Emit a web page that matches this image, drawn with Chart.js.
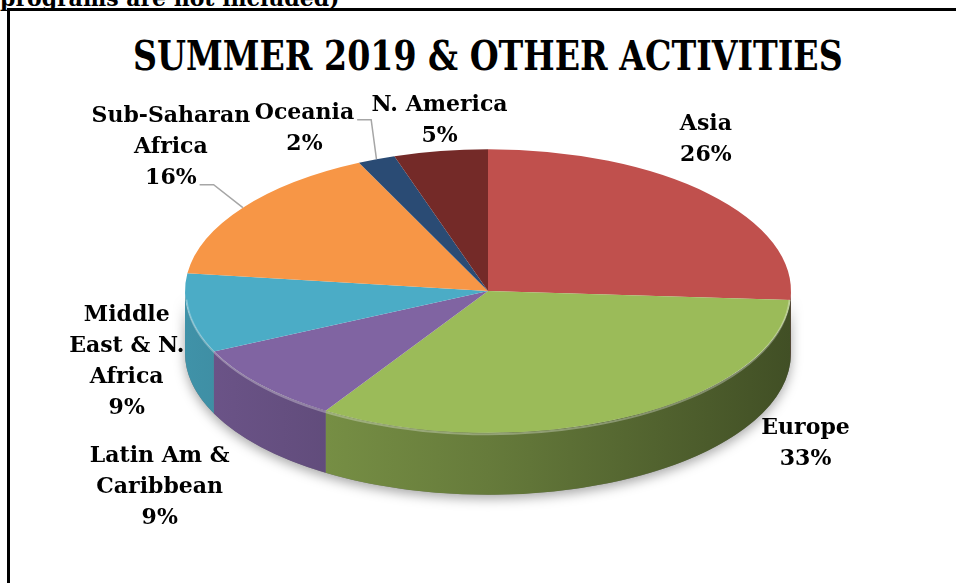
<!DOCTYPE html>
<html>
<head>
<meta charset="utf-8">
<script src="https://cdn.jsdelivr.net/npm/chart.js@4.4.1/dist/chart.umd.min.js"></script>
<style>
  html, body { margin: 0; padding: 0; background: #fff; }
  #page { position: relative; width: 956px; height: 583px; overflow: hidden; }
  #note { position: absolute; left: 0; top: -13px; font: bold 22px "DejaVu Serif"; line-height: 1; white-space: nowrap; color: #000; }
  #frame { position: absolute; left: 7px; top: 8px; width: 1000px; height: 572px;
           border-left: 3px solid #000; border-top: 3px solid #000; border-bottom: 1px solid #999; }
  #title { position: absolute; left: 0; top: 36px; width: 976px; text-align: center; }
  #title span { display: inline-block; font: bold 41px "DejaVu Serif"; line-height: 1; color: #000; transform-origin: center; white-space: nowrap; }
  #chart-box { position: absolute; left: 0; top: 0; width: 956px; height: 583px; }
</style>
</head>
<body>
<div id="page">
  <div id="note">programs are not included)</div>
  <div id="frame"></div>
  <div id="title"><span>SUMMER 2019 &amp; OTHER ACTIVITIES</span></div>
  <div id="chart-box"><canvas id="chart-pie"></canvas></div>
</div>
<script>
// data
const regions = ["Asia", "Europe", "Latin Am & Caribbean", "Middle East & N. Africa", "Sub-Saharan Africa", "Oceania", "N. America"];
const shares = [26, 33, 9, 9, 16, 2, 5];
const labelLines = [["Asia"], ["Europe"], ["Latin Am &", "Caribbean"], ["Middle", "East & N.", "Africa"], ["Sub-Saharan", "Africa"], ["Oceania"], ["N. America"]];
const sliceColors = ["#C0504D", "#9BBB59", "#8064A2", "#4BACC6", "#F79646", "#2A4B74", "#742A28"];

// look of the 3d pie
const TILT = 0.468;
const DEPTH = 62;
const RADIUS = 303;
// label block centre, relative to the slice's outer edge point
const labelOffset = [[-3, -54], [180, 26], [-101, 103], [-62, 49], [-72, -60], [-72, -30], [-1, -30]];
const leaderFrom = { 4: "last", 5: "first" };
const LINE_H = 31;

// fit title to reference width
const t = document.querySelector("#title span");
t.style.transform = "scaleX(" + (710 / t.offsetWidth) + ")";

function shade(hex, f) {
  const n = parseInt(hex.slice(1), 16);
  const r = Math.round(((n >> 16) & 255) * f), g = Math.round(((n >> 8) & 255) * f), b = Math.round((n & 255) * f);
  return "rgb(" + r + "," + g + "," + b + ")";
}

const pie3d = {
  id: "pie3d",
  beforeDatasetsDraw(chart) {
    const ctx = chart.ctx;
    const arcs = chart.getDatasetMeta(0).data;
    if (!arcs.length) return;
    const { x, y, outerRadius: r } = arcs[0];
    // soft shadow under the pie
    ctx.save();
    ctx.shadowColor = "rgba(0,0,0,0.35)";
    ctx.shadowBlur = 12;
    ctx.shadowOffsetY = 4;
    ctx.fillStyle = "#777";
    ctx.beginPath();
    ctx.ellipse(x, y, r, r * TILT, 0, 0, Math.PI, false);
    ctx.ellipse(x, y + DEPTH, r, r * TILT, 0, Math.PI, 0, true);
    ctx.closePath();
    ctx.fill();
    ctx.restore();
    // side walls
    arcs.forEach((arc, i) => {
      const s = Math.max(arc.startAngle, 0), e = Math.min(arc.endAngle, Math.PI);
      if (e <= s) return;
      const g = ctx.createLinearGradient(x - r, 0, x + r, 0);
      g.addColorStop(0, shade(sliceColors[i], 0.85));
      g.addColorStop(0.5, shade(sliceColors[i], 0.66));
      g.addColorStop(1, shade(sliceColors[i], 0.42));
      ctx.fillStyle = g;
      ctx.beginPath();
      ctx.ellipse(x, y, r, r * TILT, 0, s, e, false);
      ctx.ellipse(x, y + DEPTH, r, r * TILT, 0, e, s, true);
      ctx.closePath();
      ctx.fill();
    });
    // squash the flat pie into the top face
    ctx.save();
    ctx.translate(x, y);
    ctx.scale(1, TILT);
    ctx.translate(-x, -y);
  },
  afterDatasetsDraw(chart) {
    const ctx = chart.ctx;
    ctx.restore();
    const arcs = chart.getDatasetMeta(0).data;
    if (!arcs.length) return;
    const { x, y, outerRadius: r } = arcs[0];
    ctx.save();
    ctx.strokeStyle = "rgba(255,255,255,0.3)";
    ctx.lineWidth = 2;
    ctx.beginPath();
    ctx.ellipse(x, y + 1.5, r - 1, r * TILT, 0, 0.05, Math.PI - 0.05);
    ctx.stroke();
    ctx.restore();
  },
  afterDraw(chart) {
    const ctx = chart.ctx;
    const arcs = chart.getDatasetMeta(0).data;
    const total = shares.reduce((a, b) => a + b, 0);
    ctx.save();
    ctx.font = "bold 22px 'DejaVu Serif'";
    ctx.fillStyle = "#000";
    ctx.textAlign = "center";
    ctx.textBaseline = "middle";
    arcs.forEach((arc, i) => {
      const mid = (arc.startAngle + arc.endAngle) / 2;
      const ax = arc.x + arc.outerRadius * Math.cos(mid);
      const ay = arc.y + arc.outerRadius * TILT * Math.sin(mid);
      const lines = labelLines[i].concat([Math.round(shares[i] / total * 100) + "%"]);
      const cx = ax + labelOffset[i][0];
      const top = ay + labelOffset[i][1] - (lines.length - 1) * LINE_H / 2;
      lines.forEach((txt, k) => ctx.fillText(txt, cx, top + k * LINE_H));
      if (leaderFrom[i]) {
        const k = leaderFrom[i] === "last" ? lines.length - 1 : 0;
        const w = ctx.measureText(lines[k]).width;
        const sx = cx + w / 2 + 3, sy = top + k * LINE_H + 6;
        ctx.save();
        ctx.strokeStyle = "#a6a6a6";
        ctx.lineWidth = 1.5;
        ctx.beginPath();
        ctx.moveTo(sx, sy);
        ctx.lineTo(sx + 14, sy);
        ctx.lineTo(ax, ay);
        ctx.stroke();
        ctx.restore();
      }
    });
    ctx.restore();
  }
};

new Chart(document.getElementById("chart-pie"), {
  type: "pie",
  data: {
    labels: regions,
    datasets: [{
      data: shares,
      backgroundColor: sliceColors,
      borderWidth: 0,
      radius: RADIUS,
      clip: false
    }]
  },
  options: {
    responsive: true,
    maintainAspectRatio: false,
    animation: false,
    events: [],
    layout: { padding: { left: 20, top: 0, right: 0, bottom: 1 } },
    plugins: { legend: { display: false }, tooltip: { enabled: false }, title: { display: false } }
  },
  plugins: [pie3d]
});
</script>
</body>
</html>
